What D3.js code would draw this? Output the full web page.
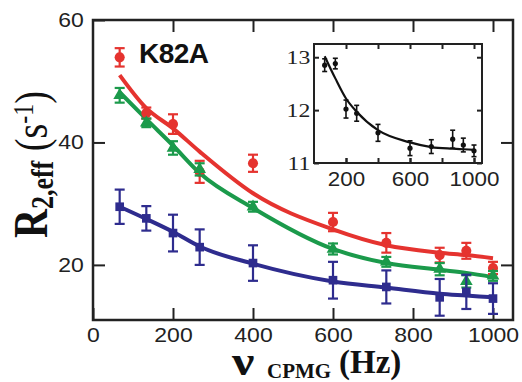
<!DOCTYPE html>
<html>
<head>
<meta charset="utf-8">
<script src="https://cdn.jsdelivr.net/npm/d3@7"></script>
<style>
  body { margin: 0; background: #fff; }
  svg { display: block; }
</style>
</head>
<body>
<svg id="chart" width="522" height="382"></svg>
<script>
// CPMG frequencies (Hz)
const nuCPMG = [66.7, 133.3, 200, 266.7, 400, 600, 733.3, 866.7, 933.3, 1000];

// Main panel: R2,eff (s^-1) for three residues, with fitted dispersion curves
const redR2   = [53.9, 44.8, 43.0, 35.2, 36.6, 27.0, 23.6, 21.6, 22.3, 19.5];
const redErr  = [1.5, 0.9, 1.6, 1.8, 1.4, 1.5, 1.6, 1.2, 1.3, 1.0];
const redFit  = [51.0, 45.6, 42.3, 38.5, 31.7, 25.8, 23.2, 22.0, 21.6, 21.1];

const greenR2  = [47.7, 43.2, 39.1, 35.6, 29.5, 22.6, 20.5, 19.3, 17.3, 18.2];
const greenErr = [1.2, 0.7, 1.1, 1.0, 0.8, 0.9, 0.8, 1.0, 1.0, 0.8];
const greenFit = [48.2, 43.8, 39.5, 35.0, 29.3, 22.6, 20.3, 19.2, 18.7, 18.0];

const blueR2   = [29.5, 27.6, 25.2, 22.9, 20.3, 17.5, 16.4, 14.7, 15.6, 14.5];
const blueErr  = [2.8, 2.0, 3.0, 2.9, 2.9, 3.0, 2.7, 3.0, 2.8, 2.5];
const blueFit  = [29.5, 27.5, 25.4, 23.0, 20.2, 17.3, 16.3, 15.3, 15.0, 14.7];

// Inset: a weakly dispersing residue
const insetR2  = [12.85, 12.88, 12.02, 11.94, 11.57, 11.28, 11.31, 11.45, 11.34, 11.23];
const insetErr = [0.12, 0.10, 0.17, 0.15, 0.16, 0.14, 0.13, 0.17, 0.13, 0.11];
const insetFit = [13.02, 12.60, 12.22, 11.97, 11.62, 11.39, 11.30, 11.27, 11.26, 11.25];

// Tick values
const xTickVals = [0, 200, 400, 600, 800, 1000];
const xTopTickVals = [200, 400, 600, 800, 1000];
const yTickVals = [20, 40, 60];
const yRightTickVals = [20, 40];
const insetXLabelVals = [200, 600, 1000];
const insetXTickVals = [200, 400, 600, 800, 1000];
const insetYTickVals = [11, 12, 13];

const mutantLabel = "K82A";

const svg = d3.select("#chart");
const ink = "#222";
const intFmt = d3.format("d");

const x = d3.scaleLinear().domain([0, 1050]).range([93, 513]);
const y = d3.scaleLinear().domain([11, 60]).range([320, 20]);

// ---- axes (ticks point inward) ----
function styleAxis(g, fontFamily, fontSize, sx) {
  g.select(".domain").remove();
  g.selectAll(".tick line").attr("stroke", ink).attr("stroke-width", 2);
  g.selectAll(".tick text")
    .attr("fill", ink)
    .style("font-family", fontFamily)
    .style("font-size", fontSize + "px")
    .attr("transform", `scale(${sx},1)`);
}

const sans = "'Liberation Sans', Arial, Helvetica, sans-serif";
const serif = "'Liberation Serif', 'Times New Roman', Times, serif";

svg.append("g").attr("transform", "translate(0,320)")
  .call(d3.axisBottom(x).tickValues(xTickVals).tickFormat(intFmt).tickSize(-12).tickPadding(8))
  .call(g => styleAxis(g, sans, 20, 1.15));

svg.append("g").attr("transform", "translate(0,20)")
  .call(d3.axisTop(x).tickValues(xTopTickVals).tickSize(-12).tickFormat(""))
  .call(g => styleAxis(g, sans, 20, 1));

svg.append("g").attr("transform", "translate(93,0)")
  .call(d3.axisLeft(y).tickValues(yTickVals).tickFormat(intFmt).tickSize(-12).tickPadding(8))
  .call(g => styleAxis(g, sans, 20, 1.15));

svg.append("g").attr("transform", "translate(513,0)")
  .call(d3.axisRight(y).tickValues(yRightTickVals).tickSize(-12).tickFormat(""))
  .call(g => styleAxis(g, sans, 20, 1));

// frame
svg.append("rect")
  .attr("x", x.range()[0]).attr("y", y.range()[1])
  .attr("width", x.range()[1] - x.range()[0])
  .attr("height", y.range()[0] - y.range()[1])
  .attr("fill", "none").attr("stroke", ink).attr("stroke-width", 2.5);

// ---- series ----
const series = [
  { vals: redR2,   err: redErr,   fit: redFit,   color: "#e5332f", symbol: d3.symbolCircle,   size: 80 },
  { vals: greenR2, err: greenErr, fit: greenFit, color: "#1b9a4b", symbol: d3.symbolTriangle, size: 70 },
  { vals: blueR2,  err: blueErr,  fit: blueFit,  color: "#2e2c8e", symbol: d3.symbolSquare,   size: 75 }
];

const fitLine = d3.line()
  .x(d => x(d[0])).y(d => y(d[1]))
  .curve(d3.curveMonotoneX);

series.forEach(s => {
  svg.append("path")
    .datum(nuCPMG.map((n, i) => [n, s.fit[i]]))
    .attr("d", fitLine)
    .attr("fill", "none")
    .attr("stroke", s.color)
    .attr("stroke-width", 4)
    .attr("stroke-linejoin", "round");
});

series.forEach(s => {
  const pts = nuCPMG.map((n, i) => ({ n, v: s.vals[i], e: s.err[i] }));
  const g = svg.append("g").attr("stroke", s.color).attr("fill", s.color);
  const eb = g.selectAll("g.eb").data(pts).join("g").attr("class", "eb")
    .attr("stroke-width", 2.2);
  eb.append("line")
    .attr("x1", d => x(d.n)).attr("x2", d => x(d.n))
    .attr("y1", d => y(d.v - d.e)).attr("y2", d => y(d.v + d.e));
  eb.append("line")
    .attr("x1", d => x(d.n) - 5).attr("x2", d => x(d.n) + 5)
    .attr("y1", d => y(d.v + d.e)).attr("y2", d => y(d.v + d.e));
  eb.append("line")
    .attr("x1", d => x(d.n) - 5).attr("x2", d => x(d.n) + 5)
    .attr("y1", d => y(d.v - d.e)).attr("y2", d => y(d.v - d.e));
  g.selectAll("path.mk").data(pts).join("path").attr("class", "mk")
    .attr("stroke", "none")
    .attr("transform", d => `translate(${x(d.n)},${y(d.v)})`)
    .attr("d", d3.symbol().type(s.symbol).size(s.size));
});

// mutant label
svg.append("text")
  .attr("x", 139).attr("y", 63)
  .attr("fill", "#111")
  .style("font-family", sans)
  .style("font-weight", "bold")
  .style("font-size", "28px")
  .style("letter-spacing", "-0.5px")
  .text(mutantLabel);

// ---- inset ----
const ix = d3.scaleLinear().domain([0, 1050]).range([314, 482]);
const iy = d3.scaleLinear().domain([11, 13.25]).range([163, 44]);

svg.append("rect")
  .attr("x", ix.range()[0]).attr("y", iy.range()[1])
  .attr("width", ix.range()[1] - ix.range()[0])
  .attr("height", iy.range()[0] - iy.range()[1])
  .attr("fill", "#fff");

svg.append("g").attr("transform", `translate(0,${iy.range()[0]})`)
  .call(d3.axisBottom(ix).tickValues(insetXLabelVals).tickFormat(intFmt).tickSize(-5).tickPadding(9))
  .call(g => styleAxis(g, sans, 20, 1.12));
svg.append("g").attr("transform", `translate(0,${iy.range()[0]})`)
  .call(d3.axisBottom(ix).tickValues(insetXTickVals).tickSize(-5).tickFormat(""))
  .call(g => styleAxis(g, sans, 20, 1));
svg.append("g").attr("transform", `translate(0,${iy.range()[1]})`)
  .call(d3.axisTop(ix).tickValues(insetXTickVals).tickSize(-5).tickFormat(""))
  .call(g => styleAxis(g, sans, 20, 1));
svg.append("g").attr("transform", `translate(${ix.range()[0]},0)`)
  .call(d3.axisLeft(iy).tickValues(insetYTickVals).tickFormat(intFmt).tickSize(-5).tickPadding(3))
  .call(g => styleAxis(g, serif, 19, 1.25));
svg.append("g").attr("transform", `translate(${ix.range()[1]},0)`)
  .call(d3.axisRight(iy).tickValues(insetYTickVals).tickSize(-5).tickFormat(""))
  .call(g => styleAxis(g, serif, 19, 1));

svg.append("rect")
  .attr("x", ix.range()[0]).attr("y", iy.range()[1])
  .attr("width", ix.range()[1] - ix.range()[0])
  .attr("height", iy.range()[0] - iy.range()[1])
  .attr("fill", "none").attr("stroke", ink).attr("stroke-width", 2);

const insetLine = d3.line()
  .x(d => ix(d[0])).y(d => iy(d[1]))
  .curve(d3.curveMonotoneX);

svg.append("path")
  .datum(nuCPMG.map((n, i) => [n, insetFit[i]]))
  .attr("d", insetLine)
  .attr("fill", "none").attr("stroke", "#111").attr("stroke-width", 2.2);

const ipts = nuCPMG.map((n, i) => ({ n, v: insetR2[i], e: insetErr[i] }));
const ig = svg.append("g").attr("stroke", "#111").attr("fill", "#111");
const ieb = ig.selectAll("g.eb").data(ipts).join("g").attr("class", "eb").attr("stroke-width", 1.6);
ieb.append("line")
  .attr("x1", d => ix(d.n)).attr("x2", d => ix(d.n))
  .attr("y1", d => iy(d.v - d.e)).attr("y2", d => iy(d.v + d.e));
ieb.append("line")
  .attr("x1", d => ix(d.n) - 2.5).attr("x2", d => ix(d.n) + 2.5)
  .attr("y1", d => iy(d.v + d.e)).attr("y2", d => iy(d.v + d.e));
ieb.append("line")
  .attr("x1", d => ix(d.n) - 2.5).attr("x2", d => ix(d.n) + 2.5)
  .attr("y1", d => iy(d.v - d.e)).attr("y2", d => iy(d.v - d.e));
ig.selectAll("circle").data(ipts).join("circle")
  .attr("stroke", "none")
  .attr("cx", d => ix(d.n)).attr("cy", d => iy(d.v)).attr("r", 2.6);

// ---- axis titles ----
svg.append("text")
  .attr("transform", "translate(232,375) scale(1.25,1)")
  .attr("fill", "#111")
  .style("font-family", serif)
  .style("font-weight", "bold")
  .style("font-size", "40px")
  .text("ν");

const xTitle = svg.append("text")
  .attr("fill", "#111")
  .style("font-family", serif)
  .style("font-weight", "bold");
xTitle.append("tspan").attr("x", 267).attr("y", 378).style("font-size", "21px").text("CPMG");
xTitle.append("tspan").attr("x", 339).attr("y", 373).style("font-size", "33px").text("(Hz)");

const yTitle = svg.append("text")
  .attr("transform", "translate(47,238) rotate(-90) scale(1,1.2)")
  .attr("fill", "#111")
  .style("font-family", serif);
yTitle.append("tspan").style("font-weight", "bold").style("font-size", "40px").text("R");
yTitle.append("tspan").style("font-weight", "bold").style("font-size", "26px").attr("dy", 5).text("2,eff");
yTitle.append("tspan").style("font-size", "38px").attr("dy", -5).text(" (s");
yTitle.append("tspan").style("font-size", "24px").attr("dy", -12).text("-1");
yTitle.append("tspan").style("font-size", "38px").attr("dy", 12).text(")");
</script>
</body>
</html>
